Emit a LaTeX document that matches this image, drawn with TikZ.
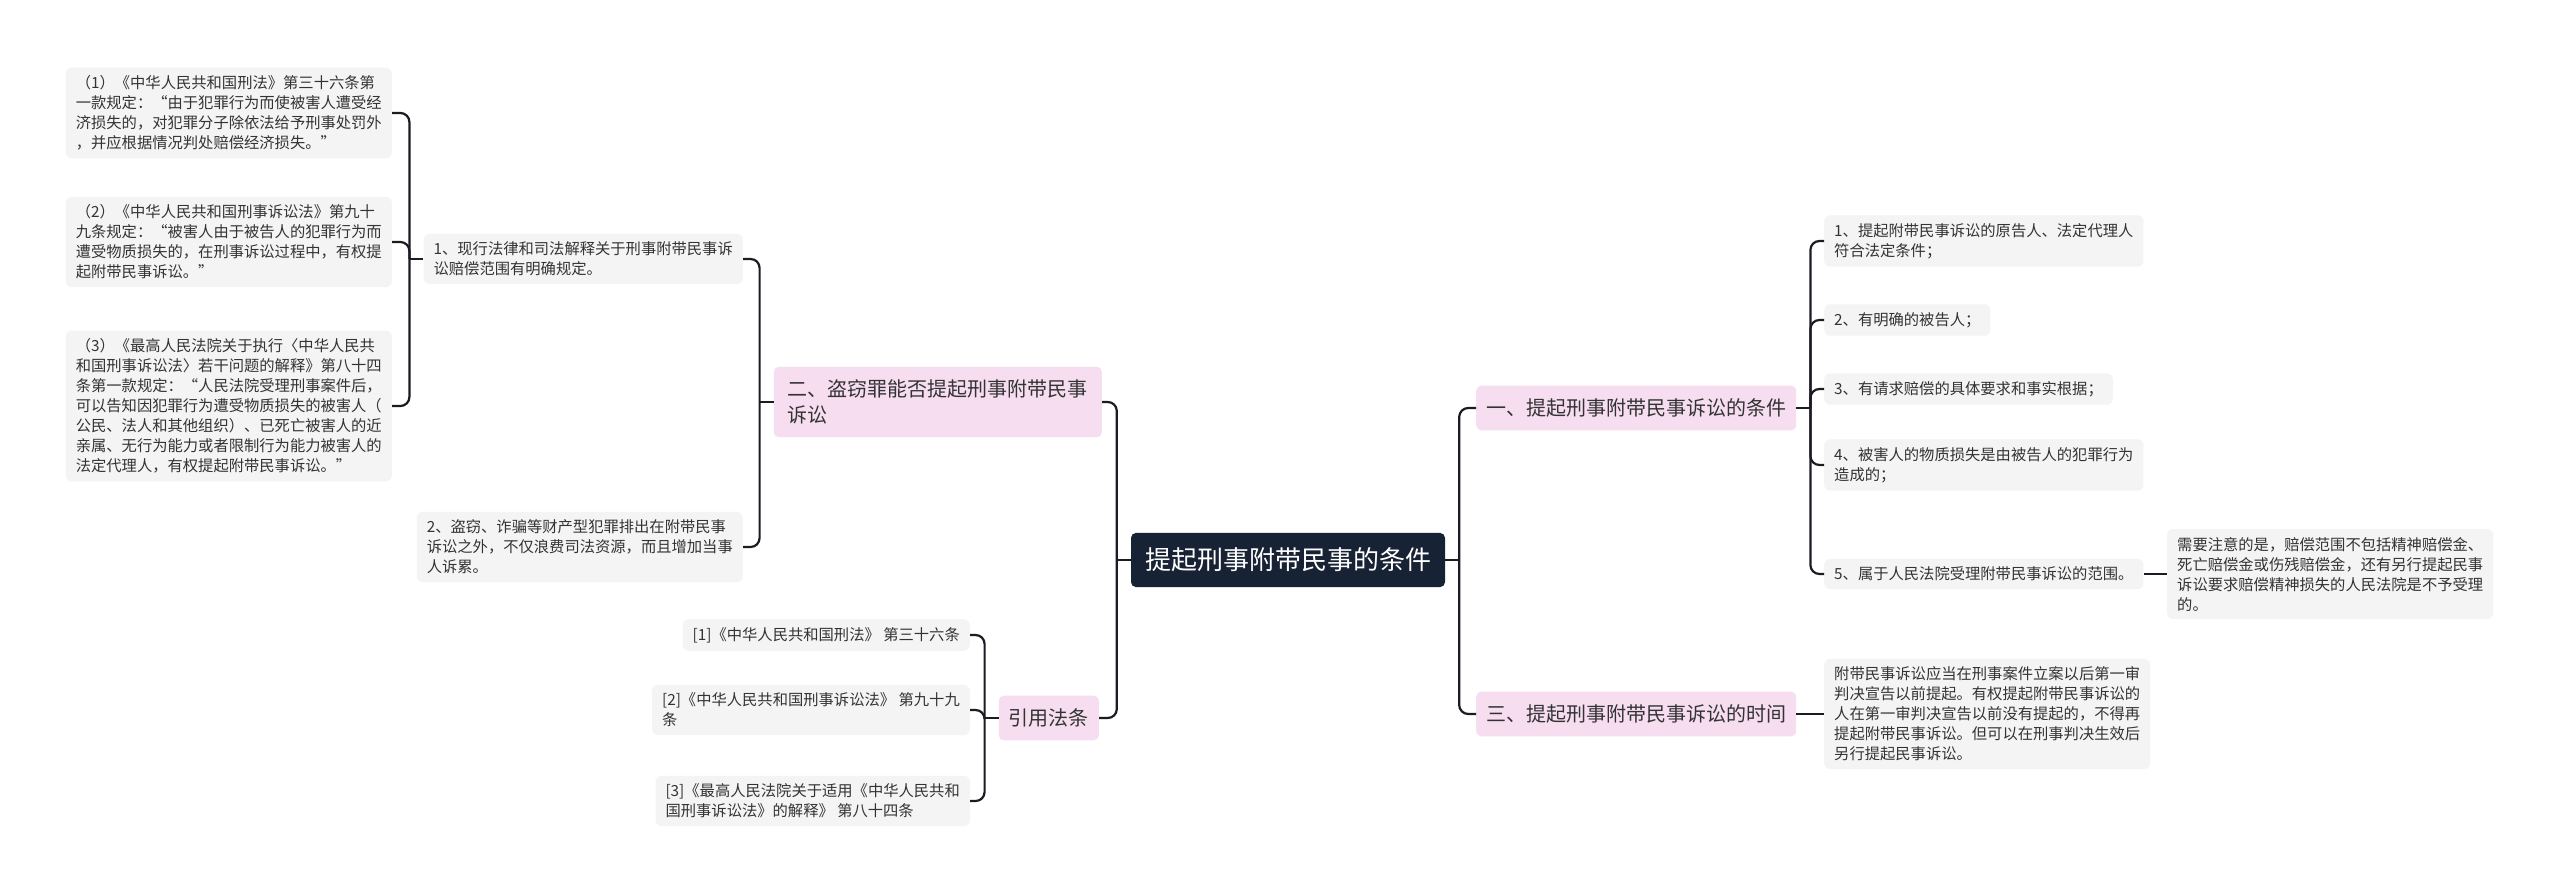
\documentclass[tikz,border=0pt]{standalone}
\usepackage{fontspec}
\setmainfont{Noto Sans CJK SC}
\usetikzlibrary{calc}
\definecolor{pinkbg}{HTML}{F6DDF0}
\definecolor{leafbg}{HTML}{F4F4F4}
\definecolor{rootbg}{HTML}{172234}
\definecolor{linec}{HTML}{1B1B24}
\definecolor{txt}{HTML}{333333}
\newcommand\rlink[2]{\draw[conn] ($(#1.east)+(14,0)$) |- (#2.west);}
\newcommand\llink[2]{\draw[conn] ($(#1.west)+(-14,0)$) |- (#2.east);}
\begin{document}
\begin{tikzpicture}[x=1pt,y=-1pt,
  rootnode/.style={fill=rootbg, text=white, rounded corners=5pt, inner xsep=14pt, inner ysep=15pt, font=\fontsize{26}{32}\selectfont},
  branch/.style={fill=pinkbg, text=txt, rounded corners=5pt, inner xsep=10pt, inner ysep=13pt, align=left, font=\fontsize{20}{26}\selectfont},
  leaf/.style={fill=leafbg, text=txt, rounded corners=6pt, inner xsep=10pt, inner ysep=8pt, align=left, font=\fontsize{15.3}{20}\selectfont},
  conn/.style={draw=linec, line width=2.2pt, rounded corners=9pt}]
\useasboundingbox[fill=white] (0,0) rectangle (2560,896);

% root
\node[rootnode] (root) at (1288,560) {提起刑事附带民事的条件};

% right branches
\node[branch, anchor=west] (b1) at (1476,408) {一、提起刑事附带民事诉讼的条件};
\node[branch, anchor=west] (b3) at (1476,714) {三、提起刑事附带民事诉讼的时间};

\node[leaf, anchor=west] (r1) at (1824,241) {1、提起附带民事诉讼的原告人、法定代理人\\符合法定条件；};
\node[leaf, anchor=west] (r2) at (1824,320) {2、有明确的被告人；};
\node[leaf, anchor=west] (r3) at (1824,389) {3、有请求赔偿的具体要求和事实根据；};
\node[leaf, anchor=west] (r4) at (1824,465) {4、被害人的物质损失是由被告人的犯罪行为\\造成的；};
\node[leaf, anchor=west] (r5) at (1824,574) {5、属于人民法院受理附带民事诉讼的范围。};
\node[leaf, anchor=west] (n5) at (2167,574) {需要注意的是，赔偿范围不包括精神赔偿金、\\死亡赔偿金或伤残赔偿金，还有另行提起民事\\诉讼要求赔偿精神损失的人民法院是不予受理\\的。};
\node[leaf, anchor=west] (t3) at (1824,714) {附带民事诉讼应当在刑事案件立案以后第一审\\判决宣告以前提起。有权提起附带民事诉讼的\\人在第一审判决宣告以前没有提起的，不得再\\提起附带民事诉讼。但可以在刑事判决生效后\\另行提起民事诉讼。};

% left branches
\node[branch, anchor=east, inner xsep=14pt] (a2) at (1102,402) {二、盗窃罪能否提起刑事附带民事\\诉讼};
\node[branch, anchor=east] (a7) at (1099,718) {引用法条};

\node[leaf, anchor=east] (l1) at (743,259) {1、现行法律和司法解释关于刑事附带民事诉\\讼赔偿范围有明确规定。};
\node[leaf, anchor=east] (l2) at (743,547) {2、盗窃、诈骗等财产型犯罪排出在附带民事\\诉讼之外，不仅浪费司法资源，而且增加当事\\人诉累。};

\node[leaf, anchor=east] (c1) at (392,113) {（1）《中华人民共和国刑法》第三十六条第\\一款规定：“由于犯罪行为而使被害人遭受经\\济损失的，对犯罪分子除依法给予刑事处罚外\\，并应根据情况判处赔偿经济损失。”};
\node[leaf, anchor=east] (c2) at (392,242) {（2）《中华人民共和国刑事诉讼法》第九十\\九条规定：“被害人由于被告人的犯罪行为而\\遭受物质损失的，在刑事诉讼过程中，有权提\\起附带民事诉讼。”};
\node[leaf, anchor=east] (c3) at (392,406) {（3）《最高人民法院关于执行〈中华人民共\\和国刑事诉讼法〉若干问题的解释》第八十四\\条第一款规定：“人民法院受理刑事案件后，\\可以告知因犯罪行为遭受物质损失的被害人（\\公民、法人和其他组织）、已死亡被害人的近\\亲属、无行为能力或者限制行为能力被害人的\\法定代理人，有权提起附带民事诉讼。”};

\node[leaf, anchor=east] (q1) at (970,635) {[1]《中华人民共和国刑法》 第三十六条};
\node[leaf, anchor=east] (q2) at (970,710) {[2]《中华人民共和国刑事诉讼法》 第九十九\\条};
\node[leaf, anchor=east] (q3) at (970,801) {[3]《最高人民法院关于适用《中华人民共和\\国刑事诉讼法》的解释》 第八十四条};

% connectors
\draw[conn] (root.east) -- ++(14,0);
\rlink{root}{b1}
\rlink{root}{b3}
\draw[conn] (root.west) -- ++(-14,0);
\llink{root}{a2}
\llink{root}{a7}

\draw[conn] (b1.east) -- ++(14,0);
\rlink{b1}{r1}
\rlink{b1}{r2}
\rlink{b1}{r3}
\rlink{b1}{r4}
\rlink{b1}{r5}
\draw[conn] (r5.east) -- (n5.west);
\draw[conn] (b3.east) -- (t3.west);

\draw[conn] (a2.west) -- ++(-14,0);
\llink{a2}{l1}
\llink{a2}{l2}
\draw[conn] (l1.west) -- ++(-14,0);
\llink{l1}{c1}
\llink{l1}{c2}
\llink{l1}{c3}
\draw[conn] (a7.west) -- ++(-14,0);
\llink{a7}{q1}
\llink{a7}{q2}
\llink{a7}{q3}
\end{tikzpicture}
\end{document}
